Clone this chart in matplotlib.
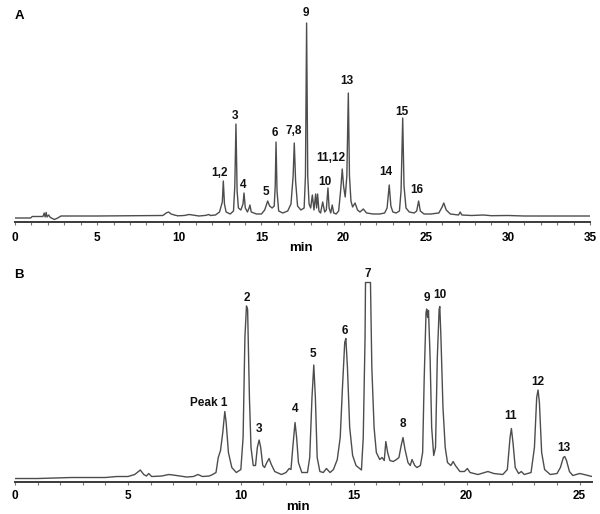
import numpy as np
import matplotlib.pyplot as plt
from matplotlib.ticker import MultipleLocator

plt.rcParams["font.family"] = ["Liberation Sans", "DejaVu Sans"]

# ---------------------------------------------------------------------------
# Datos leídos del cromatograma (tiempo [min], señal [u.a.] sobre línea base)
# ---------------------------------------------------------------------------
tiempo_a = [0.0, 0.95, 1.05, 1.7, 1.78, 1.83, 1.9, 1.95, 2.05, 2.15, 2.4, 2.6,
            2.8, 5.0, 8.0, 9.0, 9.2, 9.35, 9.5, 9.7, 9.9, 10.3, 10.6, 10.9,
            11.2, 11.6, 11.8, 11.9, 12.2, 12.45, 12.55, 12.62, 12.68, 12.75,
            12.85, 13.1, 13.3, 13.38, 13.45, 13.52, 13.6, 13.75, 13.88, 13.94,
            14.02, 14.15, 14.25, 14.3, 14.38, 14.7, 15.0, 15.2, 15.38, 15.5,
            15.65, 15.78, 15.84, 15.89, 15.95, 16.05, 16.3, 16.6, 16.8, 16.93,
            17.0, 17.08, 17.2, 17.4, 17.6, 17.68, 17.75, 17.82, 17.9, 18.0,
            18.1, 18.2, 18.3, 18.36, 18.42, 18.5, 18.6, 18.73, 18.85, 18.95,
            19.05, 19.12, 19.22, 19.31, 19.4, 19.55, 19.7, 19.82, 19.92, 20.0,
            20.1, 20.2, 20.29, 20.36, 20.45, 20.55, 20.7, 20.85, 21.0, 21.2,
            21.4, 21.8, 22.2, 22.5, 22.65, 22.78, 22.88, 23.0, 23.2, 23.4,
            23.5, 23.6, 23.68, 23.8, 24.0, 24.3, 24.45, 24.57, 24.67, 24.9,
            25.3, 25.8, 26.0, 26.1, 26.25, 26.5, 27.0, 27.1, 27.2, 27.8, 28.5,
            29.0, 30.0, 31.0, 35.0]
senal_a = [-2, -2, -0.5, -0.5, 3, -1, 3.5, -1, 1, -1.5, -3.5, -2,
           0, 0, 0.3, 0.5, 3, 4, 2, 1, 0.2, 0.5, 1.5, 0.8,
           0, 0.6, 1.5, 0.5, 1, 4, 10, 14, 35, 12,
           4, 2, 5, 30, 92, 25, 8, 6, 12, 23,
           8, 4, 8, 11, 4, 2, 2, 6, 15, 10,
           8, 10, 30, 74, 25, 5, 3, 5, 12, 40,
           73, 35, 10, 6, 8, 40, 193, 40, 12, 8,
           21, 6, 22, 8, 22, 5, 3, 14, 4, 6,
           28, 8, 3, 11, 3, 2, 5, 25, 47, 30,
           19, 40, 123, 40, 15, 9, 13, 6, 4, 7,
           3, 2, 2, 3, 8, 31, 10, 4, 3, 5,
           25, 98, 30, 8, 4, 3, 5, 15, 5, 2,
           2, 3, 9, 13, 6, 2, 1, 4, 1, 0.5, 1,
           0.3, 0.5, 0, 0]

tiempo_b = [0.0, 1.0, 2.5, 4.0, 4.5, 5.0, 5.3, 5.55, 5.7, 5.82, 5.92, 6.05,
            6.5, 6.8, 7.0, 7.3, 7.6, 7.9, 8.1, 8.3, 8.6, 8.75, 8.9, 9.0, 9.1,
            9.2, 9.29, 9.35, 9.45, 9.6, 9.8, 10.0, 10.1, 10.18, 10.25, 10.3,
            10.38, 10.45, 10.55, 10.65, 10.73, 10.81, 10.88, 10.97, 11.05,
            11.15, 11.25, 11.35, 11.5, 11.8, 12.0, 12.14, 12.22, 12.3, 12.4,
            12.47, 12.55, 12.7, 12.95, 13.05, 13.15, 13.23, 13.3, 13.38, 13.5,
            13.65, 13.79, 13.95, 14.1, 14.27, 14.4, 14.5, 14.6, 14.65, 14.72,
            14.82, 14.95, 15.1, 15.34, 15.42, 15.5, 15.52, 15.74, 15.8, 15.9,
            16.0, 16.15, 16.25, 16.35, 16.42, 16.5, 16.6, 16.75, 16.89, 17.0,
            17.1, 17.18, 17.27, 17.4, 17.5, 17.58, 17.7, 17.8, 17.95, 18.05,
            18.12, 18.2, 18.23, 18.27, 18.31, 18.38, 18.45, 18.54, 18.62, 18.7,
            18.78, 18.81, 18.86, 18.95, 19.05, 19.15, 19.3, 19.4, 19.5, 19.7,
            19.9, 20.03, 20.15, 20.5, 20.94, 21.2, 21.6, 21.8, 21.92, 21.98,
            22.05, 22.15, 22.3, 22.42, 22.55, 22.85, 23.0, 23.1, 23.16, 23.22,
            23.32, 23.45, 23.7, 24.0, 24.15, 24.28, 24.34, 24.42, 24.55, 24.7,
            25.0, 25.2, 25.55]
senal_b = [-1, -1, 0, 0, 1, 1, 3, 7.5, 3, 1.5, 4, 1,
           1.5, 3, 2.5, 1.5, 0.5, 1, 3, 1, 1.5, 3, 5, 20, 27,
           45, 66, 55, 25, 10, 5, 8, 40, 140, 171.5, 168,
           80, 30, 12, 12, 30, 37.5, 30, 12, 10,
           15, 19, 13, 6, 3, 5, 9, 8, 30, 55,
           40, 15, 5, 5, 20, 80, 112.5, 80, 20, 6,
           5, 9, 5, 8, 18, 40, 90, 135, 139, 110,
           50, 22, 12, 7.5, 40, 140, 195, 195, 110, 50,
           25, 18, 20, 17, 36, 25, 17, 16, 18, 20,
           32, 40, 28, 15, 12, 18, 12, 10, 12, 25,
           100, 165, 168.5, 160, 167, 120, 50, 22, 30, 120,
           168, 171, 140, 70, 30, 15, 12, 16, 12, 6,
           6, 9, 5, 3, 6, 4, 3, 8, 40, 49,
           35, 10, 4, 6, 3, 5, 30, 80, 87.5, 75,
           25, 8, 3, 4, 10, 20, 21, 17, 6, 2,
           4, 3, 1]

# Etiquetas de picos: texto, tiempo, altura de la etiqueta
etiquetas_a = ["1,2", "3", "4", "5", "6", "7,8", "9", "10", "11,12", "13",
               "14", "15", "16"]
etiq_t_a = [12.43, 13.41, 13.90, 15.28, 15.82, 16.94, 17.69, 18.87, 19.21,
            20.19, 22.56, 23.54, 24.45]
etiq_y_a = [42.7, 100.3, 31, 23.7, 82.7, 85, 202.7, 34, 57.7, 135.3, 44, 104,
            26]

etiquetas_b = ["2", "3", "4", "5", "6", "7", "8", "9", "10", "11", "12", "13"]
etiq_t_b = [10.25, 10.81, 12.40, 13.19, 14.60, 15.62, 17.18, 18.24, 18.81,
            21.95, 23.13, 24.29]
etiq_y_b = [179.8, 48.5, 68.5, 123.5, 146.5, 203.5, 53.5, 179.8, 182.5, 61.8,
            95.8, 29.8]

COLOR_TRAZA = "#4d4d4d"
COLOR_EJE = "#3a3a3a"
COLOR_TEXTO = "#111111"

fig = plt.figure(figsize=(6.0, 5.14), dpi=100)
ax_a = fig.add_axes([0.025, 0.5681, 0.9583, 0.4163])
ax_b = fig.add_axes([0.025, 0.0632, 0.9617, 0.4154])


def estilo_eje(ax, xmax, ymin, ymax, pad):
    ax.set_xlim(0, xmax)
    ax.set_ylim(ymin, ymax)
    for lado in ["top", "left", "right"]:
        ax.spines[lado].set_visible(False)
    ax.spines["bottom"].set_color(COLOR_EJE)
    ax.spines["bottom"].set_linewidth(1.4)
    ax.set_yticks([])
    ax.xaxis.set_major_locator(MultipleLocator(5))
    ax.xaxis.set_minor_locator(MultipleLocator(1))
    ax.tick_params(axis="x", which="both", direction="out", length=2.5,
                   width=0.8, color="#777777", pad=pad)
    for lab in ax.get_xticklabels():
        lab.set_fontweight("bold")
        lab.set_fontsize(8.5)
    ax.patch.set_alpha(0)


ax_a.plot(tiempo_a, senal_a, color=COLOR_TRAZA, linewidth=1.0)
estilo_eje(ax_a, 35, -6, 208, 4.5)
for txt, t, y in zip(etiquetas_a, etiq_t_a, etiq_y_a):
    ax_a.text(t, y, txt, ha="center", va="center", fontsize=8.5,
              fontweight="bold", color=COLOR_TEXTO, clip_on=False)

ax_b.plot(tiempo_b, senal_b, color=COLOR_TRAZA, linewidth=1.0)
estilo_eje(ax_b, 25.55, -4, 209.5, 3.5)
ax_b.text(9.41, 74.8, "Peak 1", ha="right", va="center", fontsize=8.5,
          fontweight="bold", color=COLOR_TEXTO)
for txt, t, y in zip(etiquetas_b, etiq_t_b, etiq_y_b):
    ax_b.text(t, y, txt, ha="center", va="center", fontsize=8.5,
              fontweight="bold", color=COLOR_TEXTO, clip_on=False)

fig.text(301 / 600, 1 - 248 / 514, "min", ha="center", va="center",
         fontsize=9.5, fontweight="bold")
fig.text(298 / 600, 1 - 507 / 514, "min", ha="center", va="center",
         fontsize=9.5, fontweight="bold")
fig.text(19 / 600, 1 - 16 / 514, "A", ha="center", va="center",
         fontsize=9.5, fontweight="bold")
fig.text(19 / 600, 1 - 275 / 514, "B", ha="center", va="center",
         fontsize=9.5, fontweight="bold")

fig.savefig("out.png", dpi=100)
